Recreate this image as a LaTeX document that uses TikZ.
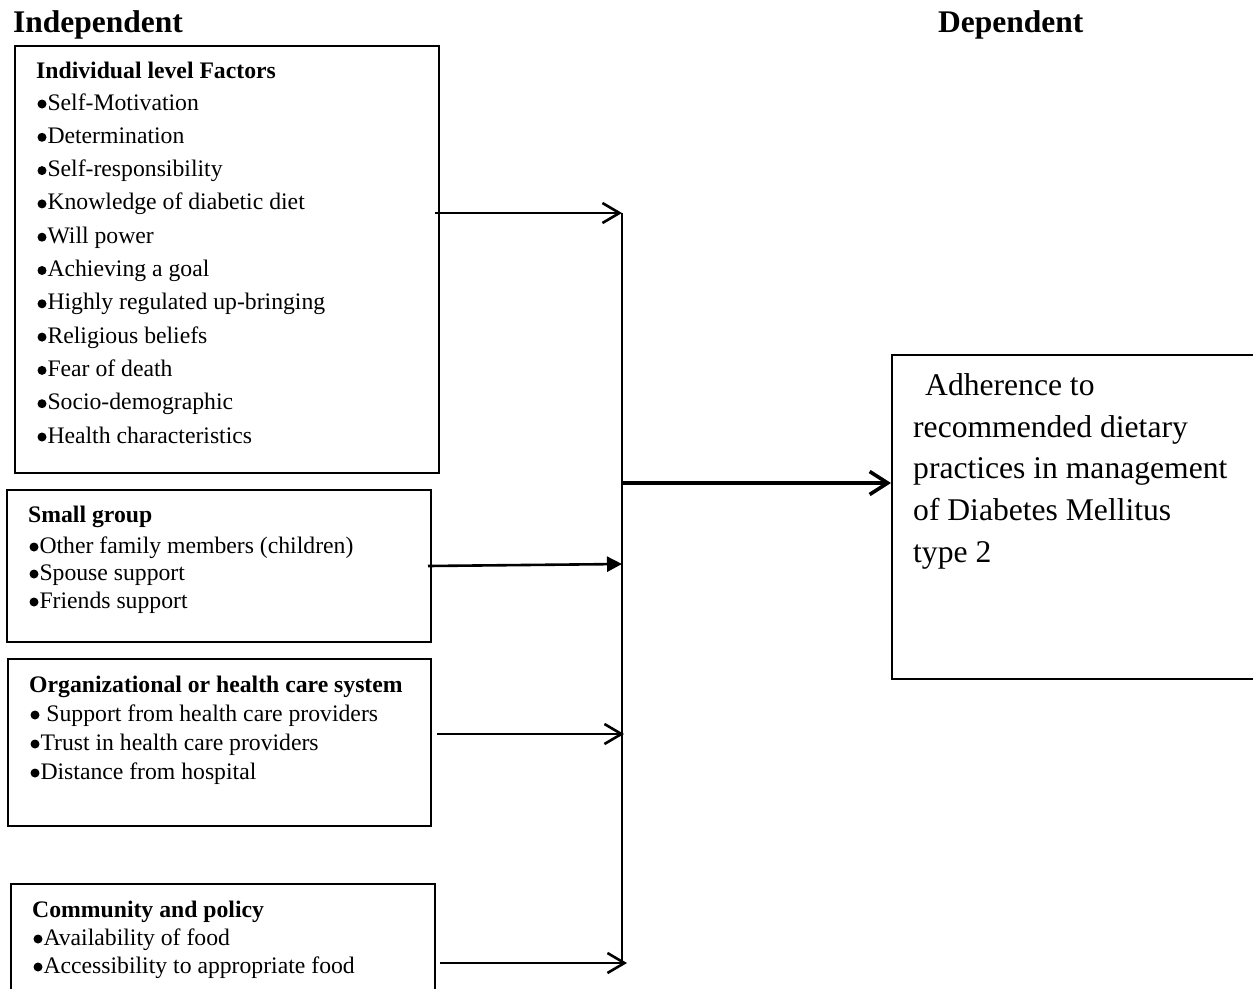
\documentclass[tikz,border=0pt]{standalone}
\usepackage{fontspec}
\setmainfont{Liberation Serif}
\usetikzlibrary{arrows.meta}
\newcommand\bul{\kern1.3pt\tikz[baseline=0pt,x=1pt,y=1pt]\fill[black] (4.6pt,6pt) circle[radius=4.5pt];\kern1pt}
\begin{document}
\begin{tikzpicture}[x=1pt,y=-1pt,
  box/.style={draw=black,line width=2pt,inner sep=0pt,outer sep=0pt,anchor=north west},
  itm/.style={anchor=base west,inner sep=0pt,font=\fontsize{23.7}{28}\selectfont},
  hd/.style={anchor=base west,inner sep=0pt,font=\fontsize{23.7}{28}\selectfont\bfseries},
  big/.style={anchor=base west,inner sep=0pt,font=\fontsize{31.5}{38}\selectfont\bfseries},
  res/.style={anchor=base west,inner sep=0pt,font=\fontsize{31.6}{38}\selectfont},
  conn/.style={draw=black,line width=2.6pt},
  openhead/.style={-{Straight Barb[length=17pt,width=20pt]}},
  fillhead/.style={-{Triangle[length=15pt,width=15pt]}},
  bigarrow/.style={draw=black,line width=3.6pt,-{Straight Barb[length=18pt,width=23pt]}}
]
\useasboundingbox (0,0) rectangle (1253,988);
\clip (0,0) rectangle (1253,988);

% headings
\node[big] (hind) at (13,32) {Independent};
\node[big] (hdep) at (938,32) {Dependent};

% box 1
\node[box,minimum width=424pt,minimum height=427pt] (b1) at (15,46) {};
\node[hd] (b1t) at (36,78) {Individual level Factors};
\foreach \t [count=\i] in {Self-Motivation,Determination,Self-responsibility,Knowledge of diabetic diet,Will power,Achieving a goal,Highly regulated up-bringing,Religious beliefs,Fear of death,Socio-demographic,Health characteristics}
  \node[itm] (b1i\i) at (36,{110+33.3*(\i-1)}) {\bul\t};

% box 2
\node[box,minimum width=424pt,minimum height=152pt] (b2) at (7,490) {};
\node[hd] (b2t) at (28,522) {Small group};
\node[itm] (b2i1) at (28,553) {\bul Other family members (children)};
\node[itm] (b2i2) at (28,580) {\bul Spouse support};
\node[itm] (b2i3) at (28,608) {\bul Friends support};

% box 3
\node[box,minimum width=423pt,minimum height=167pt] (b3) at (8,659) {};
\node[hd] (b3t) at (29,692) {Organizational or health care system};
\node[itm] (b3i1) at (29,721) {\bul{} Support from health care providers};
\node[itm] (b3i2) at (29,750) {\bul Trust in health care providers};
\node[itm] (b3i3) at (29,779) {\bul Distance from hospital};

% box 4
\node[box,minimum width=424pt,minimum height=140pt] (b4) at (11,884) {};
\node[hd] (b4t) at (32,917) {Community and policy};
\node[itm] (b4i1) at (32,945) {\bul Availability of food};
\node[itm] (b4i2) at (32,973) {\bul Accessibility to appropriate food};

% result box
\node[box,minimum width=380pt,minimum height=324pt] (rb) at (892,355) {};
\node[res] (r1) at (925,395) {Adherence to};
\node[res] (r2) at (913,437) {recommended dietary};
\node[res] (r3) at (913,478) {practices in management};
\node[res] (r4) at (913,520) {of Diabetes Mellitus};
\node[res] (r5) at (913,562) {type 2};

% connector points
\coordinate (s1) at (435,213);
\coordinate (s2) at (428,566);
\coordinate (s3) at (437,734);
\coordinate (s4) at (440,963);
\coordinate (j1) at (622,213);
\coordinate (j2) at (622,564);
\coordinate (j3) at (624,734);
\coordinate (j4) at (627,963);
\coordinate (jt) at (622,213);
\coordinate (jb) at (622,963);
\coordinate (jm) at (622,483);
\coordinate (rin) at (891,483);

% connectors
\draw[conn,line width=2pt] (jt) -- (jb);
\draw[conn,openhead] (s1) -- (j1);
\draw[conn,fillhead] (s2) -- (j2);
\draw[conn,openhead] (s3) -- (j3);
\draw[conn,openhead] (s4) -- (j4);
\draw[bigarrow] (jm) -- (rin);
\end{tikzpicture}
\end{document}
